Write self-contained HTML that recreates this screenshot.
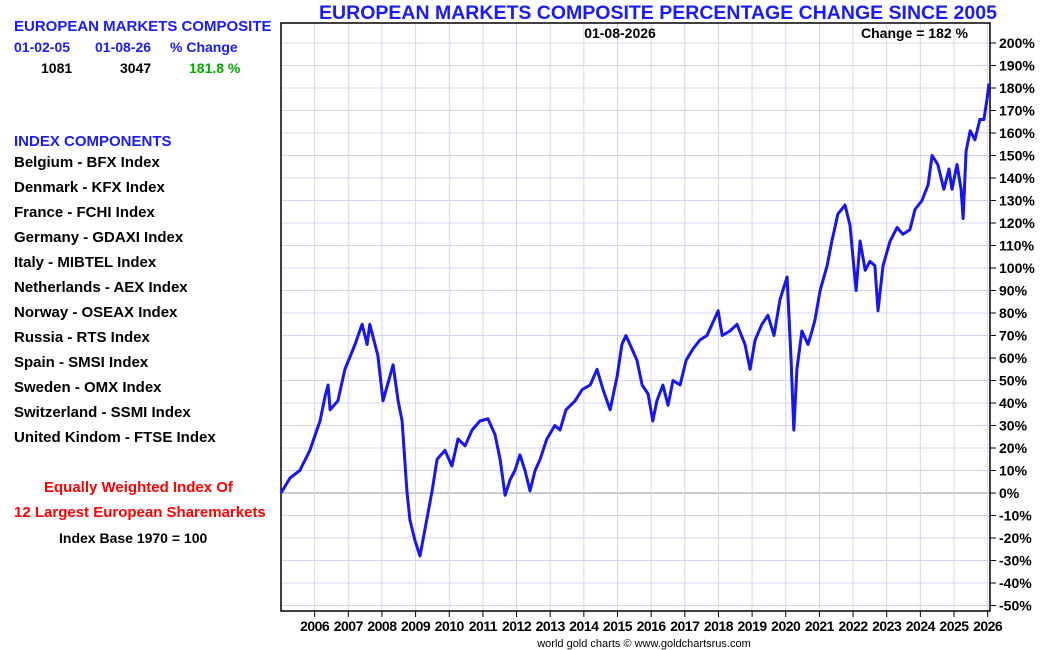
<!DOCTYPE html>
<html><head><meta charset="utf-8"><style>
body{margin:0;background:#fff;font-family:"Liberation Sans",Arial,sans-serif;}
#wrap{position:relative;width:1050px;height:650px;overflow:hidden;}
.t{position:absolute;font-weight:bold;font-size:14px;white-space:nowrap;}
.c{font-size:15px;}
</style></head><body>
<div id="wrap">
<div class="t" style="left:14px;top:18px;color:#1a1aff;font-size:15px">EUROPEAN MARKETS COMPOSITE</div>
<div class="t" style="left:14px;top:39px;color:#1a1aff">01-02-05</div>
<div class="t" style="left:95px;top:39px;color:#1a1aff">01-08-26</div>
<div class="t" style="left:170px;top:39px;color:#1a1aff">% Change</div>
<div class="t" style="left:41px;top:60px;color:#000">1081</div>
<div class="t" style="left:120px;top:60px;color:#000">3047</div>
<div class="t" style="left:189px;top:60px;color:#0a0">181.8 %</div>
<div class="t c" style="left:14px;top:133px;color:#1a1aff">INDEX COMPONENTS</div>
<div id="comps"></div>
<div class="t c" style="left:44px;top:479px;color:#f00">Equally Weighted Index Of</div>
<div class="t c" style="left:14px;top:504px;color:#f00">12 Largest European Sharemarkets</div>
<div class="t" style="left:59px;top:530px;color:#000">Index Base 1970 = 100</div>
<svg id="chart" width="1050" height="650" style="position:absolute;left:0;top:0"></svg>
</div>
<script>
const components=["Belgium - BFX Index","Denmark - KFX Index","France - FCHI Index","Germany - GDAXI Index","Italy - MIBTEL Index","Netherlands - AEX Index","Norway - OSEAX Index","Russia - RTS Index","Spain - SMSI Index","Sweden - OMX Index","Switzerland - SSMI Index","United Kindom - FTSE Index"];
const yTicks=[200,190,180,170,160,150,140,130,120,110,100,90,80,70,60,50,40,30,20,10,0,-10,-20,-30,-40,-50];
const xYears=[2006,2007,2008,2009,2010,2011,2012,2013,2014,2015,2016,2017,2018,2019,2020,2021,2022,2023,2024,2025,2026];
const dates=[0,0.27,0.56,0.86,1.16,1.31,1.40,1.46,1.69,1.90,2.20,2.41,2.56,2.64,2.88,3.03,3.24,3.33,3.48,3.60,3.74,3.83,3.98,4.13,4.28,4.49,4.64,4.87,5.08,5.26,5.47,5.68,5.91,6.15,6.36,6.51,6.66,6.81,6.95,7.10,7.25,7.40,7.55,7.70,7.90,8.14,8.29,8.47,8.74,8.95,9.19,9.39,9.57,9.78,9.99,10.13,10.25,10.43,10.58,10.73,10.91,11.05,11.17,11.35,11.50,11.65,11.86,12.04,12.24,12.45,12.66,12.87,12.99,13.11,13.34,13.55,13.79,13.94,14.09,14.29,14.47,14.65,14.83,15.04,15.16,15.24,15.33,15.48,15.66,15.78,15.87,16.02,16.23,16.37,16.55,16.76,16.91,17.09,17.21,17.36,17.50,17.65,17.74,17.89,18.10,18.31,18.48,18.69,18.84,19.05,19.23,19.35,19.52,19.70,19.85,19.94,20.09,20.21,20.27,20.36,20.48,20.62,20.77,20.89,20.98,21.04];
const values=[0,6.7,10,19,32,43,48,37,41,55,66,75,66,75,61,41,52,57,41,32,1,-12,-21,-28,-16,1,15,19,12,24,21,28,32,33,26,15,-1,6,10,17,10,1,10,15,24,30,28,37,41,46,48,55,46,37,52,66,70,64,59,48,44,32,41,48,39,50,48,59,64,68,70,77,81,70,72,75,66,55,68,75,79,70,86,96,59,28,55,72,66,72,77,90,101,112,124,128,119,90,112,99,103,101,81,101,112,118,115,117,126,130,137,150,146,135,144,135,146,135,122,152,161,157,166,166,175,182];
const NS="http://www.w3.org/2000/svg";
const svg=document.getElementById('chart');
const L=281,R=990,T=23,B=611;
const X=t=>L+t*33.65;
const Y=v=>493-v*2.25;
function mk(tag,attrs){const e=document.createElementNS(NS,tag);for(const k in attrs)e.setAttribute(k,attrs[k]);svg.appendChild(e);return e;}
const cl=document.getElementById('comps');
components.forEach((c,i)=>{const d=document.createElement('div');d.className='t c';d.style.left='14px';d.style.top=(154+i*25)+'px';d.textContent=c;


cl.appendChild(d);});
yTicks.forEach(v=>{const y=Y(v);
const g=mk('line',{x1:L,x2:R,y1:y,y2:y,stroke:v===0?'#999':'#d4d4f0','stroke-width':1});


const tk=mk('line',{x1:R,x2:R+6,y1:y,y2:y,stroke:'#000'});


const tx=mk('text',{x:R+9,y:y+5,'font-size':14,'font-weight':'bold','font-family':'Liberation Sans, sans-serif'});
tx.textContent=v+'%';

});
xYears.forEach(yr=>{const x=X(yr-2005);
const g=mk('line',{x1:x,x2:x,y1:T,y2:B,stroke:'#d4d4f0'});


const tk=mk('line',{x1:x,x2:x,y1:B,y2:B+6,stroke:'#000'});


const tx=mk('text',{x:x,y:631,'font-size':14,'font-weight':'bold','text-anchor':'middle','font-family':'Liberation Sans, sans-serif','letter-spacing':'-0.5'});
tx.textContent=yr;

});
const fr=mk('rect',{x:L,y:T,width:R-L,height:B-T,fill:'none',stroke:'#000','stroke-width':1.5});


const pts=dates.map((d,i)=>X(d).toFixed(1)+','+Y(values[i]).toFixed(1)).join(' ');
const ln=mk('polyline',{points:pts,fill:'none',stroke:'#1515f5','stroke-width':3,'stroke-linejoin':'round'});


const tt=mk('text',{x:658,y:19,'font-size':19.5,'font-weight':'bold',fill:'#1a1aff','text-anchor':'middle','font-family':'Liberation Sans, sans-serif'});
tt.textContent='EUROPEAN MARKETS COMPOSITE PERCENTAGE CHANGE SINCE 2005';


const dt=mk('text',{x:620,y:38,'font-size':14,'font-weight':'bold','text-anchor':'middle','font-family':'Liberation Sans, sans-serif'});
dt.textContent='01-08-2026';


const ch=mk('text',{x:968,y:38,'font-size':14,'font-weight':'bold','text-anchor':'end','font-family':'Liberation Sans, sans-serif'});
ch.textContent='Change = 182 %';


const cr=mk('text',{x:644,y:647,'font-size':11,'text-anchor':'middle','font-family':'Liberation Sans, sans-serif'});
cr.textContent='world gold charts © www.goldchartsrus.com';


</script>
</body></html>
